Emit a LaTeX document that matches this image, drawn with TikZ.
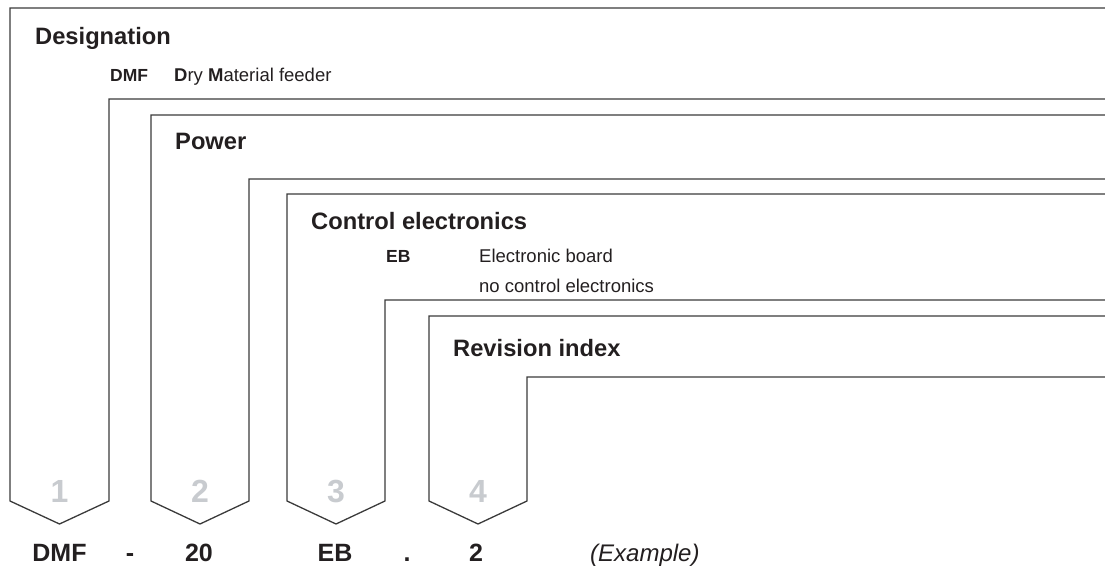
\documentclass[tikz,border=0pt]{standalone}
\usepackage{fontspec}
\setmainfont{Liberation Sans}
\definecolor{linegray}{HTML}{3A3A3A}
\definecolor{txt}{HTML}{231F20}
\definecolor{numgray}{HTML}{C8CBCF}
\begin{document}
\begin{tikzpicture}[x=1pt,y=-1pt,
  bracket/.style={draw=linegray,line width=1.3pt,line join=miter},
  head/.style={anchor=base west,inner sep=0pt,text=txt,font=\fontsize{23.7}{28}\selectfont\bfseries},
  code/.style={anchor=base west,inner sep=0pt,text=txt,font=\fontsize{17.5}{21}\selectfont\bfseries},
  desc/.style={anchor=base west,inner sep=0pt,text=txt,font=\fontsize{18.5}{22}\selectfont},
  num/.style={anchor=base,inner sep=0pt,text=numgray,font=\fontsize{32}{36}\selectfont\bfseries},
  result/.style={anchor=base,inner sep=0pt,text=txt,font=\fontsize{25}{30}\selectfont\bfseries}]
\useasboundingbox (0,0) rectangle (1105,569);
\begin{scope}
\clip (0,0) rectangle (1105,569);
% bracket 1
\draw[bracket] (1110,8) -- (10,8) -- (10,501) -- (59.5,524) -- (109,501) -- (109,99) -- (1110,99);
% bracket 2
\draw[bracket] (1110,115) -- (151,115) -- (151,501) -- (200,524) -- (249,501) -- (249,179) -- (1110,179);
% bracket 3
\draw[bracket] (1110,194) -- (287,194) -- (287,501) -- (336,524) -- (385,501) -- (385,300) -- (1110,300);
% bracket 4
\draw[bracket] (1110,316) -- (429,316) -- (429,501) -- (478,524) -- (527,501) -- (527,377) -- (1110,377);
\end{scope}
% headings
\node[head] (h1) at (35,45) {Designation};
\node[code] (c1) at (110,82) {DMF};
\node[desc] (d1) at (174,82) {\textbf{D}ry \textbf{M}aterial feeder};
\node[head] (h2) at (175,150) {Power};
\node[head] (h3) at (311,230) {Control electronics};
\node[code] (c3) at (386,263) {EB};
\node[desc] (d3a) at (479,263) {Electronic board};
\node[desc] (d3b) at (479,292) {no control electronics};
\node[head] (h4) at (453,356) {Revision index};
% position numbers
\node[num] (n1) at (59.5,502) {1};
\node[num] (n2) at (200,502) {2};
\node[num] (n3) at (336,502) {3};
\node[num] (n4) at (478,502) {4};
% example
\node[result] (r1) at (59.5,561) {DMF};
\node[result] (r2) at (130,561) {-};
\node[result] (r3) at (199,561) {20};
\node[result] (r4) at (335,561) {EB};
\node[result] (r5) at (407,561) {.};
\node[result] (r6) at (476,561) {2};
\node[anchor=base west,inner sep=0pt,text=txt,font=\fontsize{24}{28}\selectfont\itshape] (ex) at (590,561) {(Example)};
\end{tikzpicture}
\end{document}
